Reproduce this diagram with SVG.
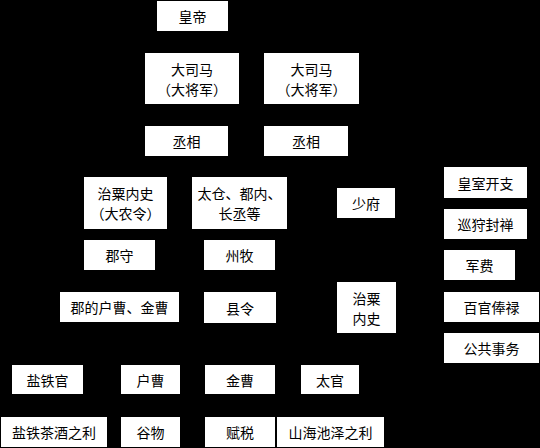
<svg xmlns="http://www.w3.org/2000/svg" width="540" height="448" viewBox="0 0 540 448">
<style>
rect.b{fill:#fff;stroke:none}
text{font-family:"Noto Sans CJK SC","Noto Sans CJK TC",sans-serif;font-size:14px;fill:#000;text-anchor:middle;dominant-baseline:central}
</style>
<rect x="0" y="0" width="540" height="448" fill="#000"/>
<g id="connectors"/>
<g id="n-huangdi"><rect class="b" x="157" y="1" width="71" height="30"/><text x="192.5" y="16">皇帝</text></g>
<g id="n-dasima1"><rect class="b" x="145" y="53" width="94" height="51"/><text x="192" y="69">大司马</text><text x="192" y="89">（大将军）</text></g>
<g id="n-dasima2"><rect class="b" x="264" y="53" width="95" height="51"/><text x="311.5" y="69">大司马</text><text x="311.5" y="89">（大将军）</text></g>
<g id="n-chengxiang1"><rect class="b" x="145" y="126" width="83" height="30"/><text x="186.5" y="141">丞相</text></g>
<g id="n-chengxiang2"><rect class="b" x="264" y="126" width="84" height="30"/><text x="306" y="141">丞相</text></g>
<g id="n-zhisu1"><rect class="b" x="84" y="177" width="83" height="52"/><text x="125.5" y="193">治粟内史</text><text x="125.5" y="213">（大农令）</text></g>
<g id="n-taicang"><rect class="b" x="192" y="177" width="95" height="52"/><text x="239.5" y="193">太仓、都内、</text><text x="239.5" y="213">长丞等</text></g>
<g id="n-shaofu"><rect class="b" x="337" y="188" width="58" height="30"/><text x="366" y="203">少府</text></g>
<g id="n-junshou"><rect class="b" x="84" y="240" width="71" height="30"/><text x="119.5" y="255">郡守</text></g>
<g id="n-zhoumu"><rect class="b" x="204" y="240" width="71" height="30"/><text x="239.5" y="255">州牧</text></g>
<g id="n-junhucao"><rect class="b" x="60" y="292" width="119" height="30"/><text x="119.5" y="307">郡的户曹、金曹</text></g>
<g id="n-xianling"><rect class="b" x="204" y="292" width="72" height="31"/><text x="240" y="307.5">县令</text></g>
<g id="n-zhisu2"><rect class="b" x="337" y="282" width="59" height="51"/><text x="366.5" y="298">治粟</text><text x="366.5" y="318">内史</text></g>
<g id="n-huangshi"><rect class="b" x="444" y="167" width="83" height="31"/><text x="485.5" y="182.5">皇室开支</text></g>
<g id="n-xunshou"><rect class="b" x="444" y="209" width="83" height="30"/><text x="485.5" y="224">巡狩封禅</text></g>
<g id="n-junfei"><rect class="b" x="444" y="250" width="71" height="30"/><text x="479.5" y="265">军费</text></g>
<g id="n-baiguan"><rect class="b" x="444" y="292" width="95" height="30"/><text x="491.5" y="307">百官俸禄</text></g>
<g id="n-gonggong"><rect class="b" x="444" y="333" width="95" height="30"/><text x="491.5" y="348">公共事务</text></g>
<g id="n-yantieguan"><rect class="b" x="12" y="365" width="71" height="29"/><text x="47.5" y="379.5">盐铁官</text></g>
<g id="n-hucao"><rect class="b" x="121" y="365" width="59" height="29"/><text x="150.5" y="379.5">户曹</text></g>
<g id="n-jincao"><rect class="b" x="205" y="365" width="70" height="29"/><text x="240" y="379.5">金曹</text></g>
<g id="n-taiguan"><rect class="b" x="301" y="365" width="58" height="29"/><text x="330" y="379.5">太官</text></g>
<g id="n-yantiecha"><rect class="b" x="1" y="417" width="106" height="30"/><text x="54" y="432">盐铁茶酒之利</text></g>
<g id="n-guwu"><rect class="b" x="121" y="417" width="59" height="30"/><text x="150.5" y="432">谷物</text></g>
<g id="n-fushui"><rect class="b" x="205" y="417" width="70" height="30"/><text x="240" y="432">赋税</text></g>
<g id="n-shanhai"><rect class="b" x="277" y="417" width="107" height="30"/><text x="330.5" y="432">山海池泽之利</text></g>
</svg>
